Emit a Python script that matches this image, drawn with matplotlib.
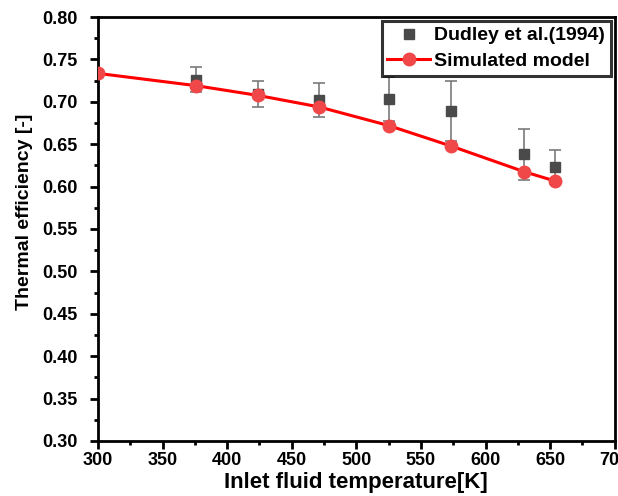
import matplotlib
matplotlib.use('Agg')
import matplotlib.pyplot as plt
from matplotlib.ticker import MultipleLocator
from matplotlib.lines import Line2D

plt.rcParams['font.family'] = ['Liberation Sans', 'DejaVu Sans']
plt.rcParams['font.weight'] = 'bold'

# data
temp_exp = [376, 424, 471, 525, 573, 630, 654]
eff_exp = [0.726, 0.709, 0.702, 0.703, 0.689, 0.638, 0.623]
err_exp = [0.015, 0.015, 0.020, 0.026, 0.035, 0.030, 0.020]

temp_sim = [300, 376, 424, 471, 525, 573, 630, 654]
eff_sim = [0.7335, 0.719, 0.7075, 0.694, 0.672, 0.648, 0.6175, 0.6065]

exp_color = '#4a4a4a'
sim_line = '#ff0000'
sim_mark = '#f04848'

fig = plt.figure(figsize=(6.18, 4.96), dpi=100)
ax = fig.add_axes([0.1586, 0.111, 0.836, 0.8547])

ax.errorbar(temp_exp, eff_exp, yerr=err_exp, fmt='s', color=exp_color,
            ms=7.5, ecolor='#7a7a7a', elinewidth=1.2, capsize=4, capthick=1.2,
            zorder=2)
ax.plot(temp_sim, eff_sim, '-o', color=sim_line, lw=2.2, ms=9,
        mfc=sim_mark, mec=sim_mark, zorder=3)

ax.set_xlim(300, 700)
ax.set_ylim(0.30, 0.80)
ax.xaxis.set_major_locator(MultipleLocator(50))
ax.xaxis.set_minor_locator(MultipleLocator(25))
ax.yaxis.set_major_locator(MultipleLocator(0.05))
ax.yaxis.set_minor_locator(MultipleLocator(0.025))
ax.yaxis.set_major_formatter(plt.FormatStrFormatter('%.2f'))

ax.tick_params(which='major', direction='out', length=6, width=2, labelsize=13)
ax.tick_params(which='minor', direction='out', length=3, width=2)
ax.tick_params(axis='x', which='major', pad=2)
ax.tick_params(axis='y', which='major', pad=9)
for s in ax.spines.values():
    s.set_linewidth(2)

ax.set_xlabel('Inlet fluid temperature[K]', fontsize=16, fontweight='bold', labelpad=2)
ax.set_ylabel('Thermal efficiency [-]', fontsize=14, fontweight='bold', labelpad=12)
ax.yaxis.set_label_coords(-0.125, 0.54)

handles = [
    Line2D([], [], ls='none', marker='s', color=exp_color, ms=7.5),
    Line2D([], [], ls='-', lw=2.2, color=sim_line, marker='o', ms=9,
           mfc=sim_mark, mec=sim_mark),
]
labels = ['Dudley et al.(1994)', 'Simulated model']
leg = ax.legend(handles, labels, loc='upper right', fontsize=14, frameon=True,
                fancybox=False, borderaxespad=0.2, handlelength=2.2,
                handletextpad=0.2, borderpad=0.3, labelspacing=0.4)
leg.get_frame().set_edgecolor('black')
leg.get_frame().set_linewidth(2.2)

fig.savefig('out.png', dpi=100)
